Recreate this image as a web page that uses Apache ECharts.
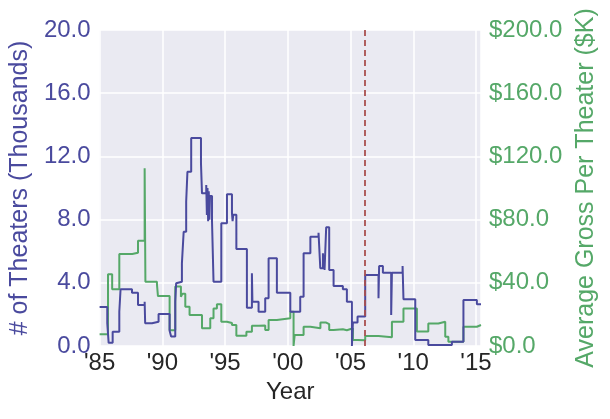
<!DOCTYPE html>
<html>
<head>
<meta charset="utf-8">
<script src="https://cdn.jsdelivr.net/npm/echarts@6/dist/echarts.min.js"></script>
<style>
html,body{margin:0;padding:0;background:#fff;}
#chart{width:610px;height:419px;}
</style>
</head>
<body>
<div id="chart"></div>
<script>
// Number of theaters (thousands), step values starting at each year
const theaterYears = [1985.0,1985.61,1985.72,1986.04,1986.57,1986.67,1987.58,1988.06,1988.59,1988.63,1988.66,1989.18,1989.7,1990.58,1990.7,1991.03,1991.1,1991.2,1991.56,1991.7,1991.9,1992.0,1992.3,1993.08,1993.16,1993.5,1993.55,1993.6,1993.65,1993.7,1993.75,1993.8,1993.96,1994.08,1994.7,1995.15,1995.55,1995.6,1995.65,1995.9,1996.74,1997.14,1997.18,1997.67,1998.2,1998.47,1999.13,2000.2,2000.99,2001.26,2001.8,2002.45,2002.59,2002.8,2002.93,2003.06,2003.3,2003.65,2004.39,2004.71,2005.11,2005.19,2005.56,2006.17,2007.23,2007.28,2007.58,2008.24,2008.3,2009.15,2009.22,2010.16,2011.2,2013.08,2014.0,2015.07,2015.4];
const theaterValues = [2.47,1.45,0.2,0.9,2.17,3.59,3.37,2.6,2.8,1.44,1.44,1.54,2.03,0.97,0.6,2.8,3.97,4.07,5.23,7.23,9.13,11.03,13.16,11.56,9.66,10.19,8.3,10.0,7.9,9.8,8.0,9.5,7.87,4.07,7.77,9.6,8.4,7.9,8.3,6.14,2.42,4.6,2.8,2.17,3.02,5.55,3.37,2.17,3.12,5.87,6.92,7.17,4.92,5.87,4.81,7.51,4.81,3.8,3.59,2.8,0.0,1.48,1.86,4.49,3.02,5.06,4.64,1.96,4.64,5.06,2.96,0.38,0.06,0.27,2.91,2.64,2.64];

// Average gross per theater ($K)
const grossYears = [1985.0,1985.67,1986.0,1986.57,1987.6,1988.06,1988.59,1988.65,1989.57,1989.65,1990.58,1991.03,1991.48,1991.6,1991.83,1992.17,1993.16,1993.82,1994.08,1994.35,1994.7,1995.15,1995.55,1995.9,1996.7,1997.14,1997.67,1998.2,1998.47,1999.13,2000.2,2000.46,2000.55,2001.26,2001.8,2002.6,2003.06,2003.3,2003.65,2004.39,2004.71,2005.19,2005.56,2006.17,2007.23,2008.3,2009.22,2010.29,2011.2,2012.0,2012.55,2012.8,2014.0,2015.07,2015.4];
const grossValues = [7.4,45.4,35.9,58.2,59.0,66.6,112.5,40.7,39.2,31.6,10.0,37.6,31.2,33.0,24.9,19.6,11.2,17.5,23.8,26.4,15.4,14.6,13.3,6.5,9.0,12.8,13.0,10.1,16.4,17.5,21.7,0.0,7.0,12.2,11.2,14.8,13.8,10.1,10.6,10.0,11.2,3.8,3.6,6.3,5.5,15.4,23.8,9.1,14.3,15.4,5.9,2.7,12.2,13.3,13.3];

const markerYear = 2006.17;
const xTicks = [1985,1990,1995,2000,2005,2010,2015];

const BLUE = '#4a4a9e';
const GREEN = '#55a868';
const FONT = '"Liberation Sans", Arial, sans-serif';

const theaterData = theaterYears.map((x,i)=>[x, theaterValues[i]]);
const grossData = grossYears.map((x,i)=>[x, grossValues[i]]);

const chart = echarts.init(document.getElementById('chart'), null, {renderer:'canvas'});
chart.setOption({
  animation:false,
  backgroundColor:'#ffffff',
  grid:{left:99, right:129, top:30, bottom:73, show:true, backgroundColor:'#eaeaf2', borderWidth:0},
  xAxis:{
    type:'value', min:1985, max:2015.4, interval:5,
    name:'Year', nameLocation:'middle', nameGap:31,
    nameTextStyle:{color:'#262626', fontSize:24, fontFamily:FONT},
    axisLine:{show:false}, axisTick:{show:false},
    axisLabel:{color:'#262626', fontSize:24, fontFamily:FONT, margin:5,
      formatter:function(v){ return xTicks.indexOf(Math.round(v*100)/100)>=0 ? "'"+String(v).slice(2) : ''; }},
    splitLine:{show:true, lineStyle:{color:'#ffffff', width:1.5}}
  },
  yAxis:[{
    type:'value', min:0, max:20, interval:4, position:'left',
    name:'# of Theaters (Thousands)', nameLocation:'middle', nameGap:64, nameRotate:90,
    nameTextStyle:{color:BLUE, fontSize:25, fontFamily:FONT},
    axisLine:{show:false}, axisTick:{show:false},
    axisLabel:{color:BLUE, fontSize:24, fontFamily:FONT, margin:9, formatter:function(v){return v.toFixed(1);}},
    splitLine:{show:true, lineStyle:{color:'#ffffff', width:1.5}}
  },{
    type:'value', min:0, max:200, interval:40, position:'right',
    name:'Average Gross Per Theater ($K)', nameLocation:'middle', nameGap:90, nameRotate:90,
    nameTextStyle:{color:GREEN, fontSize:25, fontFamily:FONT},
    axisLine:{show:false}, axisTick:{show:false},
    axisLabel:{color:GREEN, fontSize:24, fontFamily:FONT, margin:8, formatter:function(v){return '$'+v.toFixed(1);}},
    splitLine:{show:false}
  }],
  series:[{
    type:'line', step:'end', yAxisIndex:1, data:grossData, showSymbol:false, symbol:'none',
    lineStyle:{color:GREEN, width:2}, z:2
  },{
    type:'line', step:'end', yAxisIndex:0, data:theaterData, showSymbol:false, symbol:'none',
    lineStyle:{color:BLUE, width:2}, z:3,
    markLine:{symbol:'none', silent:true, label:{show:false},
      lineStyle:{color:'#a9504f', type:[6,4], width:1.8},
      data:[{xAxis:markerYear}]}
  }]
});
</script>
</body>
</html>
